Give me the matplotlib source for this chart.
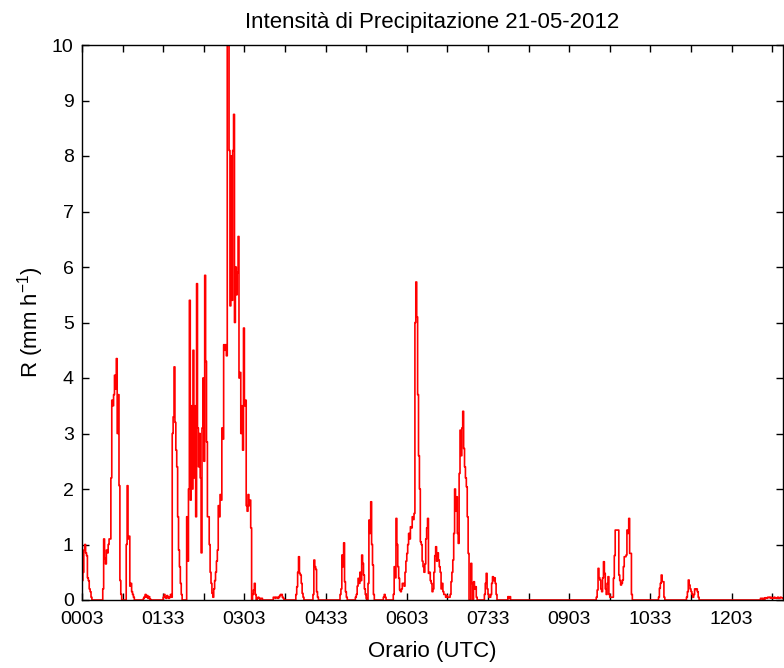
import numpy as np
import matplotlib
matplotlib.use("Agg")
import matplotlib.pyplot as plt
from matplotlib.ticker import MultipleLocator, FuncFormatter

# Rain-rate record, 1-minute steps. Each burst starts at the given minute
# of the day (UTC); minutes outside the bursts are dry (0 mm/h).
burst_start = [3, 26, 71, 93, 215, 240, 259, 289, 306, 337, 348, 449, 475,
               573, 642, 673, 755]
burst_values = [
    [0.35, 0.5, 0.9, 1.0, 0.85, 0.8, 0.4, 0.35, 0.2, 0.15, 0.05, 0.0],
    [0.2, 1.1, 0.75, 0.65, 0.9, 0.85, 1.0, 1.1, 1.1, 2.2, 3.6, 3.5, 3.7, 4.05,
     3.8, 4.35, 3.0, 3.7, 2.06, 0.35, 0.1, 0.0, 0.0, 0.0, 0.0, 0.0, 1.0, 2.06,
     1.1, 1.15, 0.25, 0.3, 0.15, 0.1, 0.05, 0.0],
    [0.03, 0.06, 0.1, 0.05, 0.08, 0.03, 0.06, 0.02, 0.0],
    [0.05, 0.1, 0.05, 0.03, 0.08, 0.05, 0.03, 0.05, 0.1, 0.05,
     3.0, 3.3, 4.2, 3.2, 2.7, 2.4, 1.5, 0.9, 0.6, 0.3, 0.1, 0.0, 0.0, 0.0, 0.0,
     0.0, 1.5, 0.7, 2.0, 5.4, 1.8, 3.5, 2.0, 4.5, 2.2, 3.5, 1.5, 5.7, 3.1, 2.4,
     3.0, 2.2, 0.85, 3.1, 4.0, 2.5, 5.85, 4.3, 2.85, 1.5, 1.5, 1.0, 0.5, 0.3,
     0.12, 0.05, 0.2, 0.35, 0.5, 0.7, 0.9, 1.7, 1.5, 1.9, 1.8, 3.1, 2.9, 4.6,
     4.5, 4.6, 4.4, 10.3, 10.3, 8.1, 5.3, 8.0, 5.4, 8.1, 8.75, 5.0, 6.0, 5.5,
     5.9, 6.55, 4.0, 4.1, 3.0, 3.5, 2.7, 4.9, 3.5, 3.6, 1.7, 1.6, 1.9, 1.7, 1.8,
     1.3, 0.0, 0.1, 0.18, 0.3, 0.1, 0.0, 0.03, 0.05, 0.03, 0.0, 0.03, 0.03,
     0.0],
    [0.05, 0.05, 0.03, 0.05, 0.05, 0.03, 0.05, 0.08, 0.1, 0.1, 0.05, 0.03, 0.0],
    [0.1, 0.24, 0.5, 0.78, 0.48, 0.45, 0.3, 0.12, 0.05, 0.0],
    [0.1, 0.72, 0.6, 0.55, 0.15, 0.05, 0.0],
    [0.1, 0.2, 0.81, 0.6, 1.03, 0.33, 0.15, 0.05, 0.0],
    [0.05, 0.1, 0.25, 0.39, 0.3, 0.5, 0.35, 0.81, 0.66, 0.45, 0.2, 0.1, 0.03,
     0.0, 0.3, 1.44, 1.2, 1.77, 1.0, 0.63, 0.1, 0.0],
    [0.05, 0.1, 0.05, 0.0],
    [0.1, 0.6, 0.4, 1.47, 1.0, 0.6, 0.39, 0.18, 0.15, 0.2, 0.3, 0.3, 0.25, 0.5,
     0.7, 0.84, 1.0, 1.2, 1.1, 1.32, 1.3, 1.5, 1.45, 1.56, 5.0, 5.73, 5.1, 3.7,
     2.6, 2.0, 1.05, 1.0, 0.7, 0.6, 0.5, 0.65, 1.1, 1.3, 1.47, 0.48, 0.5, 0.35,
     0.3, 0.15, 0.2, 0.5, 0.8, 0.96, 0.7, 0.85, 0.72, 0.6, 0.5, 0.2, 0.3, 0.15,
     0.1, 0.1, 0.05, 0.08, 0.05, 0.05, 0.05, 0.1, 0.33, 0.5, 0.72, 1.2, 2.0,
     1.6, 1.86, 1.2, 1.02, 2.28, 3.06, 2.6, 3.1, 3.4, 2.73, 2.4, 2.2, 2.04, 1.5,
     0.84, 0.0, 0.0, 0.66, 0.3, 0.0, 0.33, 0.2, 0.24, 0.05, 0.0],
    [0.1, 0.3, 0.48, 0.2, 0.1, 0.05, 0.05, 0.1, 0.3, 0.42, 0.35, 0.4, 0.3,
     0.1, 0.0],
    [0.06, 0.03, 0.06, 0.0],
    [0.05, 0.18, 0.57, 0.4, 0.36, 0.2, 0.15, 0.4, 0.69, 0.48, 0.2, 0.1, 0.3,
     0.42, 0.1, 0.05, 0.05, 0.05, 0.05, 0.39, 0.8, 1.26, 1.26, 1.26, 1.26,
     0.45, 0.35, 0.27, 0.3, 0.36, 0.6, 0.78, 0.78, 0.81, 1.26, 1.2, 1.47, 0.84,
     0.84, 0.1, 0.0],
    [0.05, 0.21, 0.3, 0.45, 0.33, 0.33, 0.05, 0.0],
    [0.05, 0.15, 0.36, 0.27, 0.2, 0.15, 0.1, 0.05, 0.1, 0.2, 0.19, 0.2, 0.15,
     0.05, 0.0],
    [0.03, 0.03, 0.0, 0.03, 0.0, 0.04, 0.04, 0.03, 0.05, 0.05, 0.04, 0.05,
     0.03, 0.04, 0.03, 0.05, 0.04, 0.03, 0.04, 0.05, 0.03, 0.04, 0.05, 0.04,
     0.04, 0.03],
]

t_start, t_end = 3, 780
minutes = np.arange(t_start, t_end + 1)
rain = np.zeros(minutes.size)
for start, vals in zip(burst_start, burst_values):
    i0 = start - t_start
    seg = np.asarray(vals)[: rain.size - i0]
    rain[i0:i0 + seg.size] = seg

plt.rcParams["font.family"] = ["Liberation Sans", "DejaVu Sans"]

fig = plt.figure(figsize=(7.84, 6.68), dpi=100)
ax = fig.add_axes([82 / 784, 68 / 668, 701 / 784, 555 / 668])

ax.plot(minutes, rain, color="#ff0000", lw=1.2, drawstyle="steps-post")

ax.set_xlim(t_start, t_end)
ax.set_ylim(0, 10)

ax.xaxis.set_major_locator(MultipleLocator(90, offset=3))
ax.xaxis.set_minor_locator(MultipleLocator(45, offset=3))
ax.xaxis.set_major_formatter(
    FuncFormatter(lambda v, p: f"{int(round(v)) // 60:02d}{int(round(v)) % 60:02d}"))
ax.yaxis.set_major_locator(MultipleLocator(1))

for side in ax.spines.values():
    side.set_linewidth(1.0)
    side.set_color("black")

ax.tick_params(which="both", direction="in", top=True, right=True,
               length=5, width=1.0, color="black", labelsize=14)
ax.tick_params(axis="x", pad=8)
ax.tick_params(axis="y", pad=6)

ax.set_title("Intensità di Precipitazione 21-05-2012", fontsize=16, pad=12)
ax.set_xlabel("Orario (UTC)", fontsize=16, labelpad=9)
ax.set_ylabel(r"R (mm h$^{\mathregular{-1}}$)", fontsize=16, labelpad=4)

fig.savefig("out.png", dpi=100)
